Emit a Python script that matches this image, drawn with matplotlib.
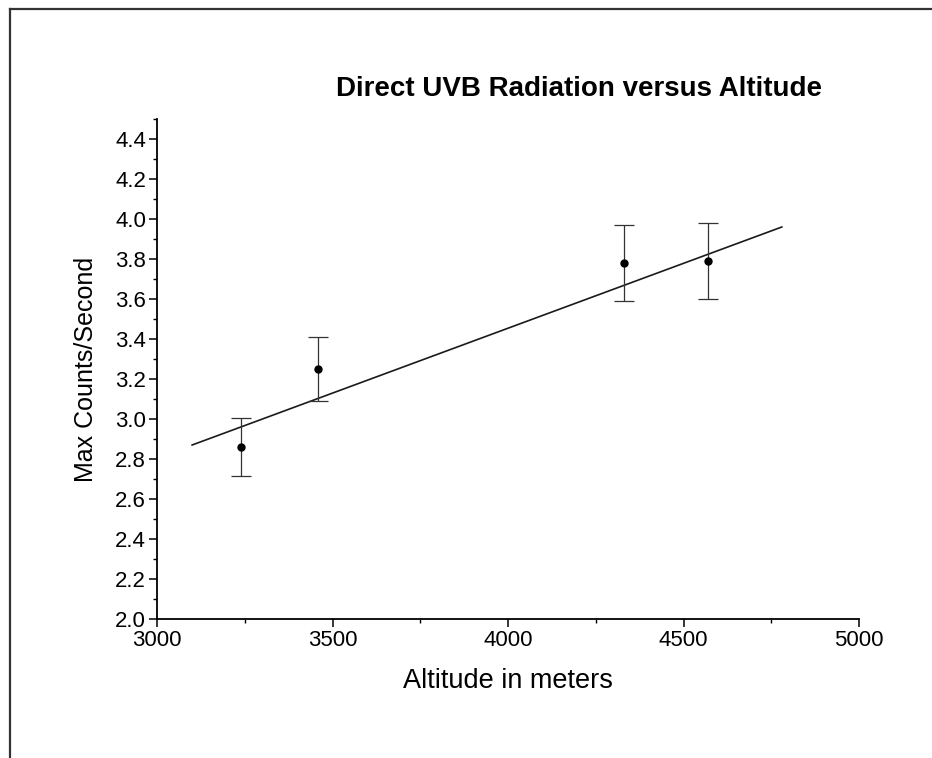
import numpy as np
import matplotlib
matplotlib.use("Agg")
import matplotlib.pyplot as plt
from matplotlib.lines import Line2D
from matplotlib.ticker import MultipleLocator, FormatStrFormatter

# datos
altitud = [3240, 3460, 4330, 4570]
cuentas = [2.86, 3.25, 3.78, 3.79]
error = [0.145, 0.16, 0.19, 0.19]

# recta de ajuste (extremos)
ajuste_x = [3100, 4780]
ajuste_y = [2.87, 3.96]

plt.rcParams['font.family'] = ['Liberation Sans', 'DejaVu Sans']

fig = plt.figure(figsize=(9.32, 7.58), dpi=100)
ax = fig.add_axes([0.1685, 0.1834, 0.7532, 0.6596])

ax.plot(ajuste_x, ajuste_y, color='#1a1a1a', lw=1.2)
ax.errorbar(altitud, cuentas, yerr=error, fmt='o', color='black', ms=5,
            ecolor='#333333', elinewidth=0.9, capsize=7.5, capthick=0.9)

ax.set_xlim(3000, 5000)
ax.set_ylim(2.0, 4.5)
ax.xaxis.set_major_locator(MultipleLocator(500))
ax.xaxis.set_minor_locator(MultipleLocator(250))
ax.yaxis.set_major_locator(MultipleLocator(0.2))
ax.yaxis.set_minor_locator(MultipleLocator(0.1))
ax.yaxis.set_major_formatter(FormatStrFormatter('%.1f'))
ax.set_yticks(np.arange(2.0, 4.41, 0.2))

for s in ['top', 'right']:
    ax.spines[s].set_visible(False)
for s in ['left', 'bottom']:
    ax.spines[s].set_linewidth(1.3)
ax.tick_params(which='major', direction='out', length=6, width=1.1, labelsize=16, pad=2)
ax.tick_params(which='minor', direction='out', length=3, width=1.0)

ax.set_xlabel('Altitude in meters', fontsize=19.5, labelpad=12)
ax.set_ylabel('Max Counts/Second', fontsize=18, labelpad=12)

fig.text(0.621, 0.882, 'Direct UVB Radiation versus Altitude', fontsize=20,
         fontweight='bold', ha='center', va='center')

# marco exterior
x0 = 10 / 932
y0 = 1 - 9 / 758
fig.add_artist(Line2D([x0, x0], [0, y0], transform=fig.transFigure, color='#333333', lw=1.6))
fig.add_artist(Line2D([x0, 1], [y0, y0], transform=fig.transFigure, color='#333333', lw=1.6))

fig.savefig('out.png', dpi=100)
